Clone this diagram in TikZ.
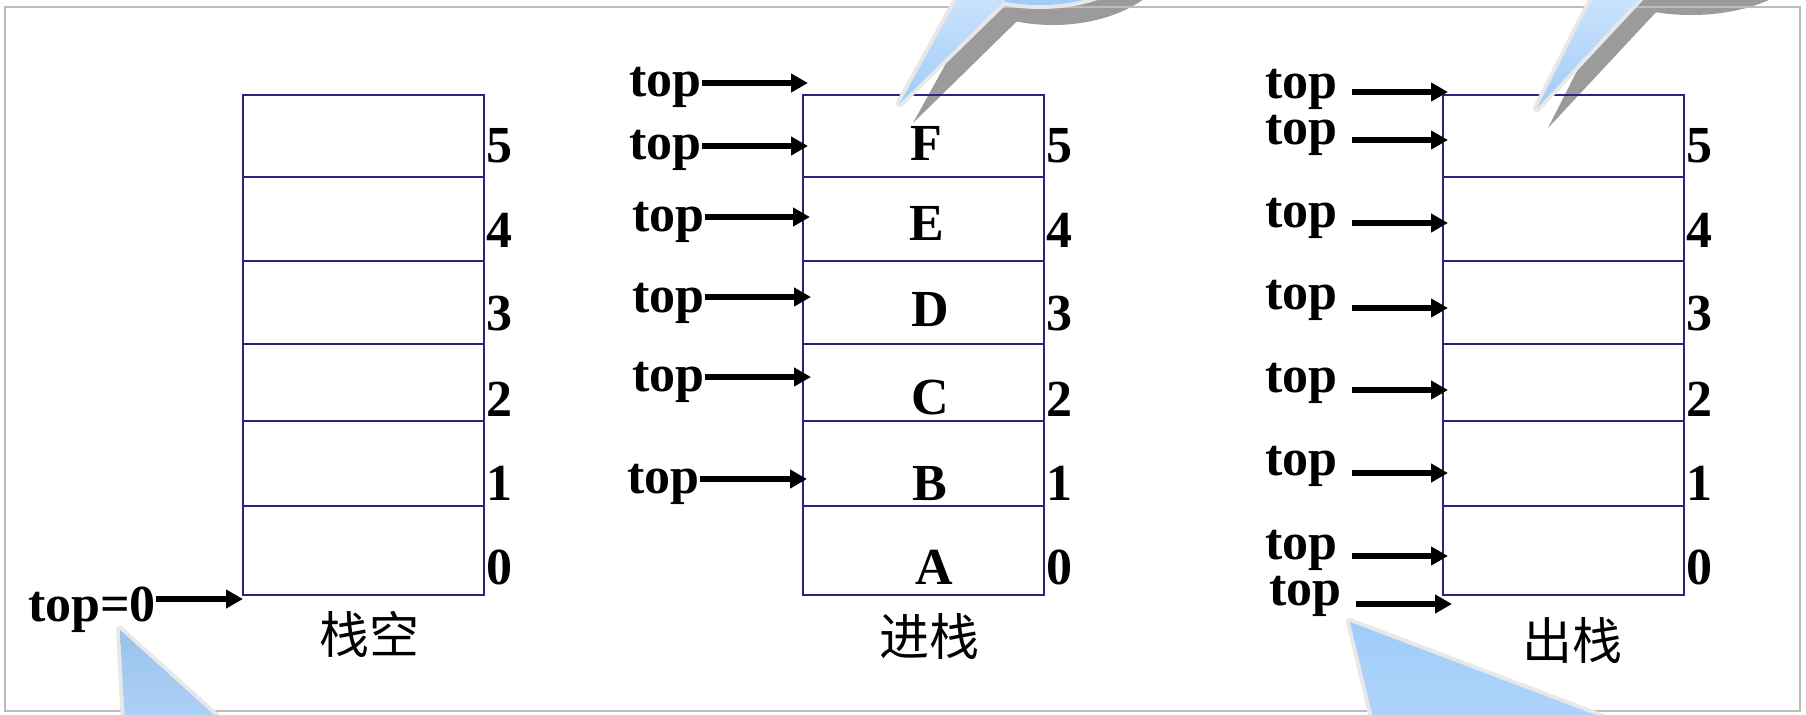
\documentclass[tikz,border=0pt]{standalone}
\usepackage{fontspec}
\setmainfont{Liberation Serif}
\newfontfamily\cjk{Noto Sans CJK SC}
\usetikzlibrary{arrows.meta}

\definecolor{cellline}{RGB}{45,35,125}
\definecolor{framegray}{RGB}{188,188,188}
\definecolor{shadowgray}{RGB}{155,155,155}
\definecolor{calloutedge}{RGB}{232,232,232}
\definecolor{calloutlight}{RGB}{218,234,252}
\definecolor{calloutblue}{RGB}{160,204,250}

\begin{document}
\begin{tikzpicture}[x=0.5pt, y=-0.5pt,
    font=\fontsize{26}{30}\selectfont\bfseries,
    ptr/.style={-{Triangle[length=8.5pt, width=9pt]}, line width=3.2pt},
    cell/.style={draw=cellline, line width=1pt},
    toplbl/.style={inner sep=0pt, anchor=east},
    caption/.style={font=\cjk\fontsize{25}{30}\selectfont},
    bubble/.style={draw=calloutedge, line width=4pt, line join=round},
    bubblefill/.style={top color=calloutlight, bottom color=calloutblue}]

    % --- 1. Page (pixel units, y down) ---
    \useasboundingbox (0,0) rectangle (1806,714);
    \fill[white] (0,0) rectangle (1806,714);

    % --- 2. Callout shadows, behind the stacks ---
    \begin{scope}
        \clip (0,0) rectangle (1806,714);
        \fill[shadowgray] (1053,-50) ellipse [x radius=120, y radius=75];
        \fill[shadowgray] (913,123) -- (1059,-20) -- (992,-20) -- cycle;
        \fill[shadowgray] (1691,-60) ellipse [x radius=130, y radius=75];
        \fill[shadowgray] (1548,128) -- (1686,-20) -- (1623,-20) -- cycle;
    \end{scope}

    % --- 3. Frame ---
    \draw[framegray, line width=1.25pt] (5,7) rectangle (1800,711);

    % --- 4. Three stacks of six cells, index on the right ---
    \def\cellw{241}
    \foreach \sx/\nm in {243/empty, 803/push, 1443/pop} {
        \draw[cell] (\sx,95) rectangle ++(\cellw,500);
        \foreach \ry in {177,261,344,421,506}
            \draw[cell] (\sx,\ry) -- ++(\cellw,0);
        \foreach \i/\iy in {5/146, 4/230, 3/314, 2/399, 1/483, 0/567}
            \node[inner sep=0pt] (\nm-idx\i) at (\sx+256,\iy) {\i};
    }

    % pushed elements
    \foreach \c/\cx/\cy in {F/926/143, E/927/223, D/930/310, C/930/398, B/930/484, A/934/567}
        \node[inner sep=0pt] (push-\c) at (\cx,\cy) {\c};

    % --- 5. top pointers ---
    % empty stack
    \node[inner sep=0pt] (empty-top) at (92,610) {top=0};
    \coordinate (empty-tip) at (243,599);
    \draw[ptr] (empty-top.east |- empty-tip) -- (empty-tip);

    % push: top moves up
    \foreach \k/\lx/\ly/\ay/\tx in {1/702/87/83/808, 2/702/150/146/808, 3/705/222/217/810,
                                     4/705/303/297/811, 5/705/382/377/811, 6/700/484/479/807} {
        \node[toplbl] (push-top\k) at (\lx,\ly) {top};
        \coordinate (push-tip\k) at (\tx,\ay);
        \draw[ptr] (push-top\k.east |- push-tip\k) -- (push-tip\k);
    }

    % pop: top moves down
    \foreach \k/\lx/\ly/\ay/\tx in {1/1338/89/92/1448, 2/1338/135/140/1448, 3/1338/218/223/1448,
                                     4/1338/300/308/1448, 5/1338/383/390/1448, 6/1338/466/473/1448,
                                     7/1338/550/556/1448, 8/1342/596/604/1452} {
        \node[toplbl] (pop-top\k) at (\lx,\ly) {top};
        \coordinate (pop-tip\k) at (\tx,\ay);
        \draw[ptr, shorten <=7pt] (pop-top\k.east |- pop-tip\k) -- (pop-tip\k);
    }

    % --- 6. Captions ---
    \node[caption] (empty-cap) at (369,634) {栈空};
    \node[caption] (push-cap) at (929,636) {进栈};
    \node[caption] (pop-cap) at (1572,640) {出栈};

    % --- 7. Callouts (cut by the page edge) ---
    \begin{scope}
        \clip (0,0) rectangle (1806,714);
        % light edges first, fills cover their inner half
        \draw[bubble] (1040,-70) ellipse [x radius=120, y radius=75];
        \draw[bubble] (900,103) -- (1046,-40) -- (979,-40) -- cycle;
        \draw[bubble] (1680,-80) ellipse [x radius=130, y radius=75];
        \draw[bubble] (1537,108) -- (1675,-40) -- (1612,-40) -- cycle;
        \draw[bubble] (120,630) -- (286,780) -- (128,780) -- cycle;
        \draw[bubble] (1350,622) -- (1767,780) -- (1388,780) -- cycle;

        \shade[bubblefill] (1040,-70) ellipse [x radius=120, y radius=75];
        \shade[bubblefill] (900,103) -- (1046,-40) -- (979,-40) -- cycle;
        \shade[bubblefill] (1680,-80) ellipse [x radius=130, y radius=75];
        \shade[bubblefill] (1537,108) -- (1675,-40) -- (1612,-40) -- cycle;
        \shade[top color=calloutblue!95!black!100, bottom color=calloutblue!70!white]
            (120,630) -- (286,780) -- (128,780) -- cycle;
        \shade[top color=calloutblue, bottom color=calloutblue!75!white]
            (1350,622) -- (1767,780) -- (1388,780) -- cycle;
    \end{scope}

\end{tikzpicture}
\end{document}
